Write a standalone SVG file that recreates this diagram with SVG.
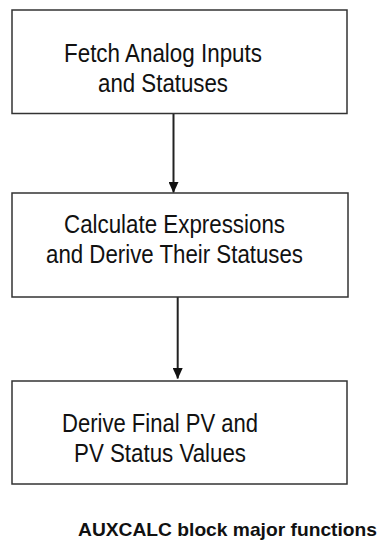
<svg xmlns="http://www.w3.org/2000/svg" width="380" height="541" viewBox="0 0 380 541">
<style>
.box{fill:#fff;stroke:#333;stroke-width:1.5}
.lbl{font-family:"Liberation Sans",Arial,sans-serif;font-size:25px;fill:#111}
.cap{font-family:"Liberation Sans",Arial,sans-serif;font-size:19px;font-weight:bold;fill:#111}
.conn{stroke:#222;stroke-width:2;fill:none;marker-end:url(#ah)}
</style>
<defs>
<marker id="ah" markerWidth="11" markerHeight="10" refX="10.5" refY="5" orient="auto" markerUnits="userSpaceOnUse" viewBox="0 0 11 10">
<path d="M0,0 L11,5 L0,10 Z" fill="#111"/>
</marker>
</defs>
<rect width="380" height="541" fill="#fff"/>
<g id="connectors">
<line class="conn" x1="173.5" y1="114" x2="173.5" y2="192.5"/>
<line class="conn" x1="177.7" y1="297" x2="177.7" y2="378.5"/>
</g>
<g id="fetch">
<rect class="box" x="12" y="10" width="335" height="103.5"/>
<text class="lbl" x="64" y="62" textLength="198" lengthAdjust="spacingAndGlyphs">Fetch Analog Inputs</text>
<text class="lbl" x="98" y="92" textLength="130" lengthAdjust="spacingAndGlyphs">and Statuses</text>
</g>
<g id="calculate">
<rect class="box" x="12" y="193" width="336" height="104"/>
<text class="lbl" x="64" y="233" textLength="221" lengthAdjust="spacingAndGlyphs">Calculate Expressions</text>
<text class="lbl" x="46" y="263" textLength="257" lengthAdjust="spacingAndGlyphs">and Derive Their Statuses</text>
</g>
<g id="derive">
<rect class="box" x="12" y="381" width="335" height="103"/>
<text class="lbl" x="62" y="432" textLength="196" lengthAdjust="spacingAndGlyphs">Derive Final PV and</text>
<text class="lbl" x="74" y="462" textLength="172" lengthAdjust="spacingAndGlyphs">PV Status Values</text>
</g>
<text class="cap" x="78" y="536" textLength="299" lengthAdjust="spacingAndGlyphs">AUXCALC block major functions</text>
</svg>
